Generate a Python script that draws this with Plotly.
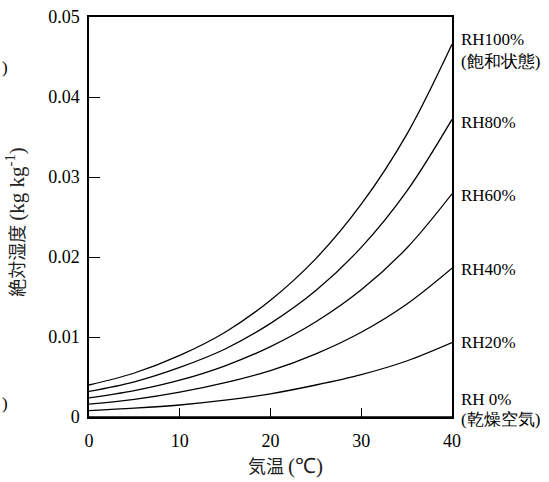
import plotly.graph_objects as go

temps = [0, 5, 10, 15, 20, 25, 30, 35, 40]
rh100 = [0.0040, 0.0055, 0.0077, 0.0106, 0.0146, 0.0198, 0.0266, 0.0353, 0.0466]
rh80 = [0.0032, 0.0044, 0.0062, 0.0085, 0.0117, 0.0158, 0.0212, 0.0282, 0.0372]
rh60 = [0.0024, 0.0033, 0.0046, 0.0064, 0.0088, 0.0119, 0.0159, 0.0211, 0.0279]
rh40 = [0.0016, 0.0022, 0.0031, 0.0043, 0.0058, 0.0079, 0.0106, 0.0141, 0.0186]
rh20 = [0.0008, 0.0011, 0.0015, 0.0021, 0.0029, 0.0040, 0.0053, 0.0070, 0.0093]
rh0 = [0, 0, 0, 0, 0, 0, 0, 0, 0]

series = [rh100, rh80, rh60, rh40, rh20, rh0]
x_ticks = [0, 10, 20, 30, 40]
y_ticks = [0, 0.01, 0.02, 0.03, 0.04, 0.05]
y_tick_text = ["0", "0.01", "0.02", "0.03", "0.04", "0.05"]

SERIF = "Times New Roman, Liberation Serif, serif"
CJK = "Noto Sans CJK JP"

fig = go.Figure()
for s in series:
    fig.add_trace(go.Scatter(x=temps, y=s, mode="lines", line=dict(color="black", width=1.3, shape="spline"),
                             showlegend=False, hoverinfo="skip"))

W, H = 549, 482
L, R, T, B = 89, 452, 17, 417.5

def py(ypix):
    return (B - ypix) / (B - T)

def px(xpix):
    return (xpix - L) / (R - L)

labels = [
    ("RH100%", 40), ("(飽和状態)", 62),
    ("RH80%", 123), ("RH60%", 196), ("RH40%", 270), ("RH20%", 343),
    ("RH 0%", 400), ("(乾燥空気)", 420),
]
annotations = []
for txt, yp in labels:
    annotations.append(dict(text=txt, xref="paper", yref="paper", x=px(459), y=py(yp),
                            xanchor="left", yanchor="middle", showarrow=False,
                            font=dict(family=SERIF, size=17, color="black")))

SPAN = '<span style="font-family:Liberation Serif,serif;font-size:21px">'
# y-axis title
annotations.append(dict(text="絶対湿度 " + SPAN + "(kg kg<sup>-1</sup>)</span>",
                        xref="paper", yref="paper", x=px(16), y=py(222),
                        xanchor="center", yanchor="middle", textangle=-90, showarrow=False,
                        font=dict(family=CJK, size=18, color="#222")))
# x-axis title
annotations.append(dict(text="気温 " + SPAN + "(℃)</span>",
                        xref="paper", yref="paper", x=px(285), y=py(466),
                        xanchor="center", yanchor="middle", showarrow=False,
                        font=dict(family=CJK, size=18, color="#222")))
# cropped parentheses from neighbouring figure
for yp in (68, 404):
    annotations.append(dict(text=")", xref="paper", yref="paper", x=px(0), y=py(yp),
                            xanchor="left", yanchor="middle", showarrow=False,
                            font=dict(family=SERIF, size=17, color="black")))

fig.update_layout(
    width=W, height=H,
    font=dict(family=SERIF, size=18, color="black"),
    margin=dict(l=L, r=W - R, t=T, b=H - B, pad=0, autoexpand=False),
    paper_bgcolor="white", plot_bgcolor="white",
    annotations=annotations,
    xaxis=dict(range=[0, 40], tickvals=x_ticks, ticktext=[str(v) for v in x_ticks],
               ticks="inside", ticklen=9, tickwidth=1.2, tickcolor="black",
               showline=True, linecolor="black", linewidth=1.5, mirror=True,
               showgrid=False, zeroline=False, automargin=False, ticklabelstandoff=7,
               tickfont=dict(family="Liberation Serif, serif", size=18, color="black")),
    yaxis=dict(range=[0, 0.05], tickvals=y_ticks, ticktext=y_tick_text,
               ticks="inside", ticklen=11, tickwidth=1.2, tickcolor="black",
               showline=True, linecolor="black", linewidth=1.5, mirror=True,
               showgrid=False, zeroline=False, automargin=False, ticklabelstandoff=4,
               tickfont=dict(family="Liberation Serif, serif", size=18, color="black")),
)

fig.write_html("out.html", config={"displayModeBar": False},
               post_script="document.body.style.margin='0';document.body.style.overflow='hidden';")
